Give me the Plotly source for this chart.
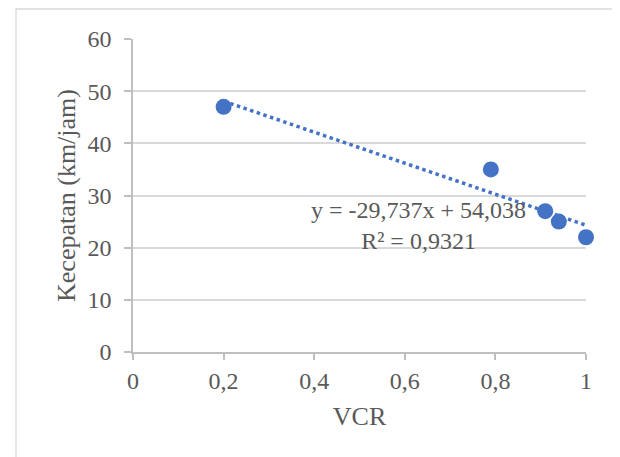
import plotly.graph_objects as go

vcr = [0.2, 0.79, 0.91, 0.94, 1.0]
kecepatan = [47, 35, 27, 25, 22]
slope = -29.737
intercept = 54.038
eq_text = "y = -29,737x + 54,038<br>R² = 0,9321"

x_tr = [min(vcr), max(vcr)]
y_tr = [slope * x + intercept for x in x_tr]

font = "Liberation Serif, Times New Roman, serif"
gray_txt = "#595959"
blue = "#4472C4"

fig = go.Figure()
fig.add_trace(go.Scatter(x=x_tr, y=y_tr, mode="lines",
                         line=dict(color=blue, width=3.5, dash="dot"),
                         cliponaxis=False,
                         hoverinfo="skip", showlegend=False))
fig.add_trace(go.Scatter(x=vcr, y=kecepatan, mode="markers",
                         marker=dict(color=blue, size=16),
                         cliponaxis=False,
                         showlegend=False))

fig.add_annotation(x=0.631, y=24.3, xref="x", yref="y", text=eq_text,
                   showarrow=False, align="center",
                   font=dict(family=font, size=24, color=gray_txt))

# page has an 8px body margin: figure origin sits at (8, 8) in the window
W, H = 612, 449
L, R, T, B = 125, 34, 31, 105
pw = W - L - R
ph = H - T - B
fig.add_shape(type="rect", xref="paper", yref="paper",
              x0=(8 - L) / pw, x1=(611 - L) / pw,
              y0=-(H + 5 - T - ph) / ph, y1=1 + (T - 1) / ph,
              line=dict(color="#d9d9d9", width=1.3), layer="below")

fig.update_layout(
    width=W, height=H, margin=dict(l=L, r=R, t=T, b=B, autoexpand=False),
    paper_bgcolor="white", plot_bgcolor="white",
    separators=", ",
    font=dict(family=font, size=24, color=gray_txt),
    xaxis=dict(range=[0, 1], dtick=0.2, showgrid=False, zeroline=False,
               showline=True, linecolor="#bfbfbf", linewidth=1.5,
               ticks="outside", ticklen=6, tickcolor="#bfbfbf", tickwidth=1.5,
               title=dict(text="VCR", font=dict(family=font, size=26), standoff=14),
               tickfont=dict(size=24, color=gray_txt)),
    yaxis=dict(range=[0, 60], dtick=10, showgrid=True, gridcolor="#d9d9d9",
               gridwidth=1.5, zeroline=False,
               showline=True, linecolor="#bfbfbf", linewidth=1.5,
               ticks="outside", ticklen=7, tickcolor="#bfbfbf", tickwidth=1.5,
               ticklabelstandoff=8,
               title=dict(text="Kecepatan (km/jam)", font=dict(family=font, size=26), standoff=4),
               tickfont=dict(size=24, color=gray_txt)),
)

fig.write_html("out.html")
